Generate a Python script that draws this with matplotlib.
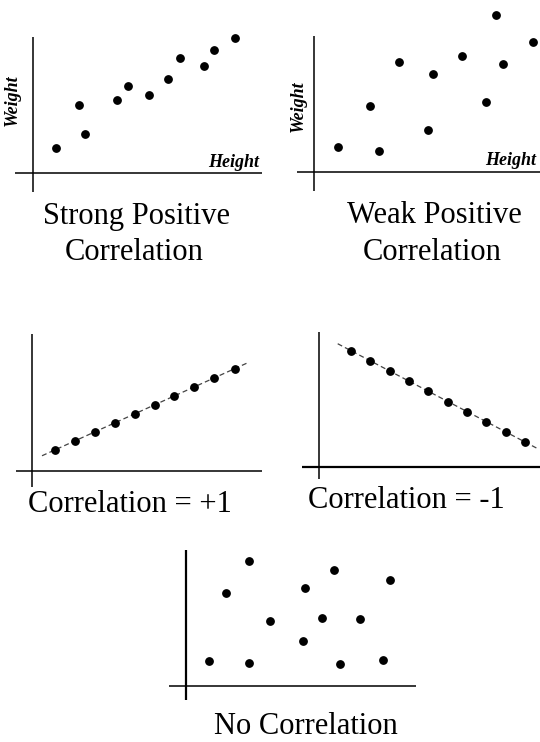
import numpy as np
import matplotlib
matplotlib.use("Agg")
import matplotlib.pyplot as plt

W, H = 540, 742
SERIF = ["Liberation Serif", "DejaVu Serif"]

# ---- data (offsets from each panel's origin) ----
strong_x = [23.5, 46.5, 52.5, 84.5, 95.5, 116.5, 135.5, 147.5, 171.5, 181.5, 202.5]
strong_y = [25, 68, 39, 73, 87, 78, 94, 115, 107, 123, 135]

weak_x = [24, 56, 65, 85, 114, 119, 148, 172, 182, 189, 219]
weak_y = [25, 66, 21, 110, 42, 98, 116, 70, 157, 108, 130]

pos1_x = [23, 43, 63, 83, 103, 123, 142, 162, 182, 203]
pos1_y = [21, 30, 39, 48, 57, 66, 75, 84, 93, 102]

neg1_x = [32, 51, 71, 90, 109, 129, 148, 167, 187, 206]
neg1_y = [116, 106, 96, 86, 76, 65, 55, 45, 35, 25]

none_x = [23, 40, 63, 63, 84, 117, 119, 136, 148, 154, 174, 197, 204]
none_y = [25, 93, 125, 23, 65, 45, 98, 68, 116, 22, 67, 26, 106]

titles = ["Strong Positive\nCorrelation", "Weak Positive\nCorrelation",
          "Correlation = +1", "Correlation = -1", "No Correlation"]
x_label = "Height"
y_label = "Weight"

fig = plt.figure(figsize=(W / 100, H / 100), dpi=100)


def panel(left, top, right, bottom, ox, oy, hlw=1.1, vlw=1.1):
    ax = fig.add_axes([left / W, 1 - bottom / H, (right - left) / W, (bottom - top) / H])
    ax.set_xlim(left - ox, right - ox)
    ax.set_ylim(oy - bottom, oy - top)
    ax.axis("off")
    ax.axhline(0, color="black", lw=hlw)
    ax.axvline(0, color="black", lw=vlw)
    return ax


def dots(ax, xs, ys):
    ax.plot(xs, ys, "o", color="black", ms=5.3, clip_on=False)


def fit_line(ax, xs, ys, x0, x1):
    k, b = np.polyfit(xs, ys, 1)
    xx = np.array([x0, x1])
    ax.plot(xx, k * xx + b, color="#444444", lw=0.9, ls=(0, (4, 2.5)), clip_on=False)


def ftext(x, y, s, **kw):
    fig.text(x / W, 1 - y / H, s, family=SERIF, **kw)


# Panel 1: strong positive
ax1 = panel(15, 37, 262, 192, 32.5, 173)
dots(ax1, strong_x, strong_y)
# Panel 2: weak positive
ax2 = panel(297, 36, 540, 191, 314.3, 172)
dots(ax2, weak_x, weak_y)
# Panel 3: +1
ax3 = panel(16, 334, 262, 487, 32.3, 470.7)
fit_line(ax3, pos1_x, pos1_y, 9.7, 214.7)
dots(ax3, pos1_x, pos1_y)
# Panel 4: -1
ax4 = panel(301.7, 332, 540, 479, 318.7, 466.7, hlw=1.6)
fit_line(ax4, neg1_x, neg1_y, 19, 218)
dots(ax4, neg1_x, neg1_y)
# Panel 5: none
ax5 = panel(169.3, 550, 416, 700, 186, 686, vlw=1.6)
dots(ax5, none_x, none_y)

# axis labels
lab = dict(fontsize=13, fontweight="bold", style="italic")
ftext(12, 100, y_label, rotation=90, ha="center", va="center", **lab)
ftext(298, 106, y_label, rotation=90, ha="center", va="center", **lab)
ftext(259, 167, x_label, ha="right", va="baseline", **lab)
ftext(536, 165, x_label, ha="right", va="baseline", **lab)

# titles
big = dict(fontsize=22, ha="center", va="baseline")
t1a, t1b = titles[0].split("\n")
ftext(136.5, 224, t1a, **big)
ftext(134, 260, t1b, **big)
t2a, t2b = titles[1].split("\n")
ftext(434, 223, t2a, **big)
ftext(432, 260, t2b, **big)
ftext(130, 512, titles[2], **big)
ftext(406.5, 508, titles[3], **big)
ftext(306, 734, titles[4], **big)

fig.savefig("out.png", dpi=100, facecolor="white")
